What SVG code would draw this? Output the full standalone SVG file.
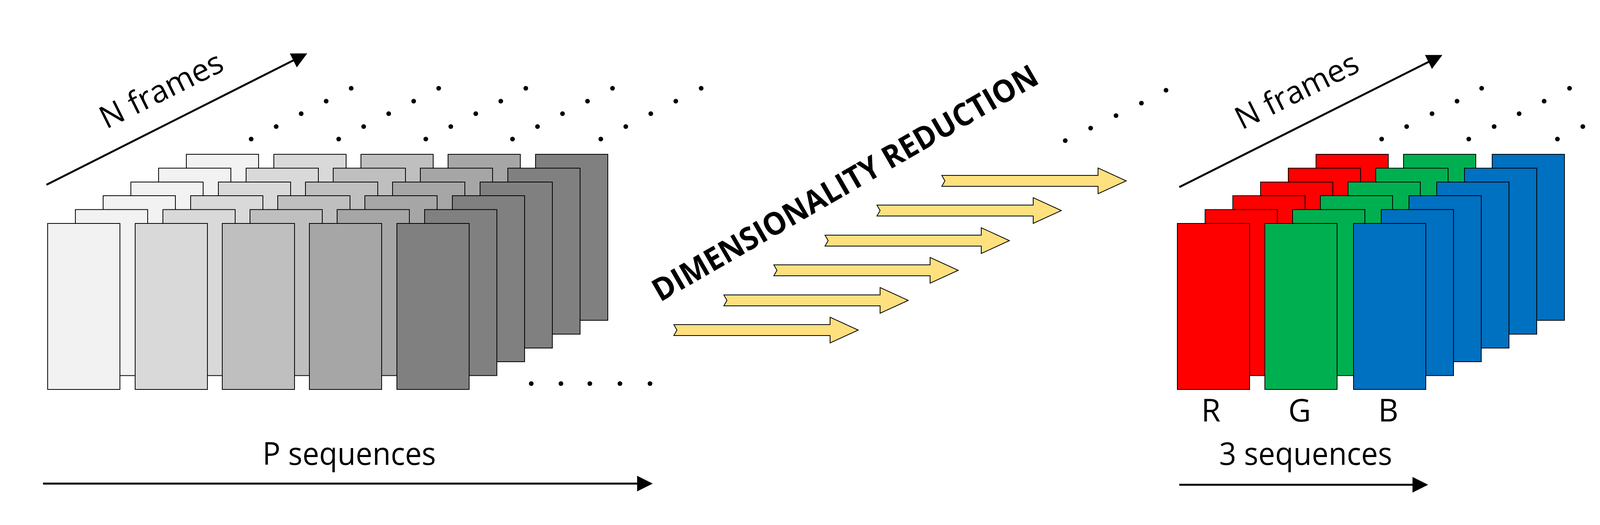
<svg xmlns="http://www.w3.org/2000/svg" width="4336" height="1344" viewBox="0 0 4336 1344">
<style>
.f{stroke:#000;stroke-width:2}
.t{font-family:"Open Sans","Liberation Sans",sans-serif;font-size:80px;fill:#000}
.ax{stroke:#000;stroke-width:5;fill:none}
.ya{fill:#FFE07F;stroke:#000;stroke-width:2;stroke-linejoin:miter}
</style>
<defs>
<marker id="ah" markerWidth="8" markerHeight="8" refX="7" refY="4" orient="auto" markerUnits="strokeWidth"><path d="M0,0 L8,4 L0,8 Z" fill="#000"/></marker>
<rect id="fr" width="185" height="425"/>
<circle id="d" r="6" fill="#000"/>
<path id="ya" d="M0,0 H400 V-19 L472,14 L400,47 V28 H0 L8,14 Z"/>
</defs>
<g id="dots">
<g id="dl">
<use href="#d" x="643" y="356"/><use href="#d" x="707" y="324"/><use href="#d" x="771" y="291"/><use href="#d" x="835" y="259"/><use href="#d" x="899" y="226"/>
<use href="#d" x="867" y="356"/><use href="#d" x="931" y="324"/><use href="#d" x="995" y="291"/><use href="#d" x="1059" y="259"/><use href="#d" x="1123" y="226"/>
<use href="#d" x="1090" y="356"/><use href="#d" x="1154" y="324"/><use href="#d" x="1218" y="291"/><use href="#d" x="1282" y="259"/><use href="#d" x="1346" y="226"/>
<use href="#d" x="1312" y="356"/><use href="#d" x="1376" y="324"/><use href="#d" x="1440" y="291"/><use href="#d" x="1504" y="259"/><use href="#d" x="1568" y="226"/>
<use href="#d" x="1538" y="356"/><use href="#d" x="1602" y="324"/><use href="#d" x="1666" y="291"/><use href="#d" x="1730" y="259"/><use href="#d" x="1795" y="226"/>
<use href="#d" x="1360" y="982"/><use href="#d" x="1436" y="982"/><use href="#d" x="1510" y="982"/><use href="#d" x="1587" y="982"/><use href="#d" x="1664" y="982"/>
</g>
<g id="dm">
<use href="#d" x="2727" y="360"/><use href="#d" x="2792" y="328"/><use href="#d" x="2857" y="296"/><use href="#d" x="2922" y="264"/><use href="#d" x="2985" y="231"/>
</g>
<g id="dr">
<use href="#d" x="3537" y="356"/><use href="#d" x="3601" y="324"/><use href="#d" x="3666" y="291"/><use href="#d" x="3730" y="259"/><use href="#d" x="3793" y="226"/>
<use href="#d" x="3760" y="356"/><use href="#d" x="3825" y="324"/><use href="#d" x="3889" y="291"/><use href="#d" x="3953" y="259"/><use href="#d" x="4018" y="226"/>
<use href="#d" x="3987" y="356"/><use href="#d" x="4052" y="324"/><use href="#d" x="4116" y="291"/><use href="#d" x="4180" y="259"/><use href="#d" x="4245" y="226"/>
</g>
</g>
<g id="greyStack" class="f">
<g transform="translate(355,-177)"><use href="#fr" x="122" y="572" fill="#F2F2F2"/><use href="#fr" x="346" y="572" fill="#D9D9D9"/><use href="#fr" x="569" y="572" fill="#BFBFBF"/><use href="#fr" x="792" y="572" fill="#A6A6A6"/><use href="#fr" x="1016" y="572" fill="#808080"/></g>
<g transform="translate(284,-141.5)"><use href="#fr" x="122" y="572" fill="#F2F2F2"/><use href="#fr" x="346" y="572" fill="#D9D9D9"/><use href="#fr" x="569" y="572" fill="#BFBFBF"/><use href="#fr" x="792" y="572" fill="#A6A6A6"/><use href="#fr" x="1016" y="572" fill="#808080"/></g>
<g transform="translate(213,-106)"><use href="#fr" x="122" y="572" fill="#F2F2F2"/><use href="#fr" x="346" y="572" fill="#D9D9D9"/><use href="#fr" x="569" y="572" fill="#BFBFBF"/><use href="#fr" x="792" y="572" fill="#A6A6A6"/><use href="#fr" x="1016" y="572" fill="#808080"/></g>
<g transform="translate(142,-71)"><use href="#fr" x="122" y="572" fill="#F2F2F2"/><use href="#fr" x="346" y="572" fill="#D9D9D9"/><use href="#fr" x="569" y="572" fill="#BFBFBF"/><use href="#fr" x="792" y="572" fill="#A6A6A6"/><use href="#fr" x="1016" y="572" fill="#808080"/></g>
<g transform="translate(71,-35.5)"><use href="#fr" x="122" y="572" fill="#F2F2F2"/><use href="#fr" x="346" y="572" fill="#D9D9D9"/><use href="#fr" x="569" y="572" fill="#BFBFBF"/><use href="#fr" x="792" y="572" fill="#A6A6A6"/><use href="#fr" x="1016" y="572" fill="#808080"/></g>
<g><use href="#fr" x="122" y="572" fill="#F2F2F2"/><use href="#fr" x="346" y="572" fill="#D9D9D9"/><use href="#fr" x="569" y="572" fill="#BFBFBF"/><use href="#fr" x="792" y="572" fill="#A6A6A6"/><use href="#fr" x="1016" y="572" fill="#808080"/></g>
</g>
<g id="rgbStack" class="f">
<g transform="translate(355,-177)"><use href="#fr" x="3014" y="572" fill="#FF0000"/><use href="#fr" x="3238" y="572" fill="#00B050"/><use href="#fr" x="3465" y="572" fill="#0070C0"/></g>
<g transform="translate(284,-141.5)"><use href="#fr" x="3014" y="572" fill="#FF0000"/><use href="#fr" x="3238" y="572" fill="#00B050"/><use href="#fr" x="3465" y="572" fill="#0070C0"/></g>
<g transform="translate(213,-106)"><use href="#fr" x="3014" y="572" fill="#FF0000"/><use href="#fr" x="3238" y="572" fill="#00B050"/><use href="#fr" x="3465" y="572" fill="#0070C0"/></g>
<g transform="translate(142,-71)"><use href="#fr" x="3014" y="572" fill="#FF0000"/><use href="#fr" x="3238" y="572" fill="#00B050"/><use href="#fr" x="3465" y="572" fill="#0070C0"/></g>
<g transform="translate(71,-35.5)"><use href="#fr" x="3014" y="572" fill="#FF0000"/><use href="#fr" x="3238" y="572" fill="#00B050"/><use href="#fr" x="3465" y="572" fill="#0070C0"/></g>
<g><use href="#fr" x="3014" y="572" fill="#FF0000"/><use href="#fr" x="3238" y="572" fill="#00B050"/><use href="#fr" x="3465" y="572" fill="#0070C0"/></g>
</g>
<g id="yellowArrows" class="ya">
<use href="#ya" transform="translate(1725,831) scale(1.0,1)"/>
<use href="#ya" transform="translate(1853,755)"/>
<use href="#ya" transform="translate(1981,678)"/>
<use href="#ya" transform="translate(2112,602)"/>
<use href="#ya" transform="translate(2245,525)"/>
<use href="#ya" transform="translate(2411,449) scale(1.0,1)"/>
</g>
<g id="connectors">
<line class="ax" x1="119" y1="473" x2="782" y2="139" marker-end="url(#ah)"/>
<line class="ax" x1="110" y1="1238" x2="1666" y2="1238" marker-end="url(#ah)"/>
<line class="ax" x1="3019" y1="479" x2="3688" y2="143" marker-end="url(#ah)"/>
<line class="ax" x1="3019" y1="1241" x2="3651" y2="1241" marker-end="url(#ah)"/>
</g>
<g id="labels">
<text class="t" text-anchor="middle" transform="translate(425,255) rotate(-26.5)">N frames</text>
<text class="t" text-anchor="middle" transform="translate(3332,257) rotate(-26.5)">N frames</text>
<text class="t" x="672" y="1190" textLength="444" lengthAdjust="spacingAndGlyphs">P sequences</text>
<text class="t" x="3121" y="1190" textLength="443" lengthAdjust="spacingAndGlyphs">3 sequences</text>
<text class="t" x="3100" y="1079" text-anchor="middle">R</text>
<text class="t" x="3327" y="1079" text-anchor="middle">G</text>
<text class="t" x="3554" y="1079" text-anchor="middle">B</text>
<text class="t" font-weight="bold" font-size="76" transform="translate(1690,774) rotate(-30)" textLength="1125" lengthAdjust="spacingAndGlyphs">DIMENSIONALITY REDUCTION</text>
</g>
</svg>
